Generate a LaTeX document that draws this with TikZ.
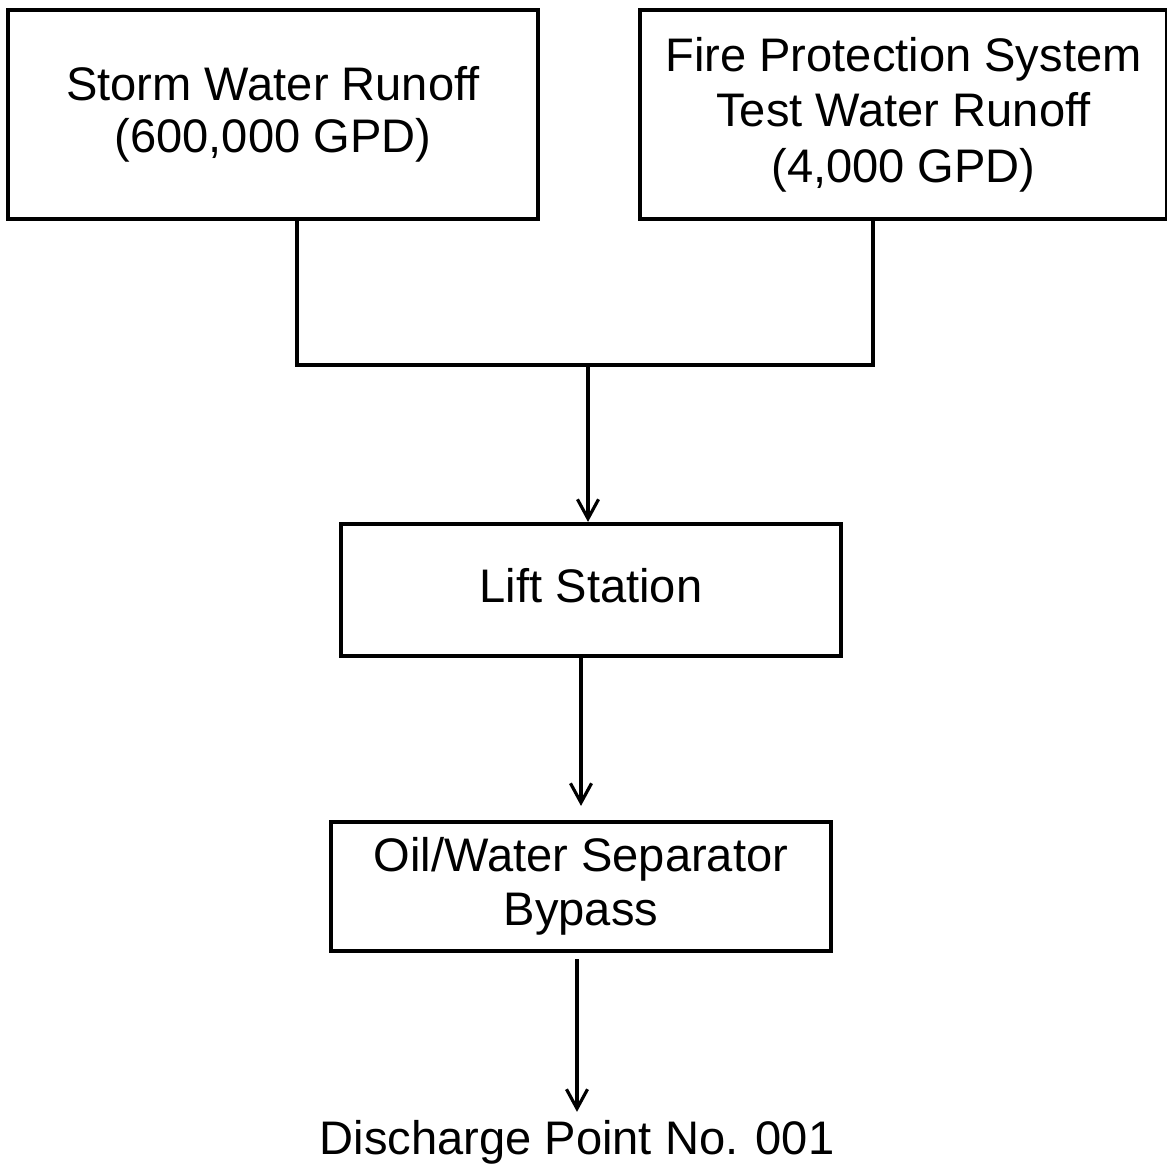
\documentclass[tikz,border=0pt]{standalone}
\usepackage{fontspec}
\setmainfont{Liberation Sans}
\usetikzlibrary{arrows.meta}

\tikzset{
    box/.style={draw, line width=2.4pt, align=center, inner sep=0pt},
    flow/.style={line width=1.8pt, -{Straight Barb[length=11pt, width=12pt, line width=1.8pt]}}
}

\begin{document}
\begin{tikzpicture}[x=0.02cm, y=-0.02cm, font=\fontsize{26.8}{31.5}\selectfont]
        \useasboundingbox (0,0) rectangle (1167,1167);
        \clip (0,0) rectangle (1167,1167);

        \node[box, minimum width=10.6cm, minimum height=4.18cm] (storm) at (273,114.5) {\raisebox{-0.06cm}{Storm Water Runoff}\\(600,000 GPD)};
        \node[box, minimum width=10.54cm, minimum height=4.18cm] (fire) at (903.5,114.5) {Fire Protection System\\Test Water Runoff\\(4,000 GPD)};
        \node[box, minimum width=10cm, minimum height=2.64cm] (lift) at (591,590) {\raisebox{0.2cm}{Lift Station}};
        \node[box, minimum width=10cm, minimum height=2.58cm] (oil) at (581,886.5) {\raisebox{-0.12cm}{Oil/Water Separator}\\\raisebox{-0.1cm}{Bypass}};
        \node (out) at (577,1142) {Discharge Point No. 001};

        \coordinate (join) at (588,365);

        \draw[line width=1.8pt]([xshift=0.48cm]storm.south) |- (join) -| ([xshift=-0.61cm]fire.south);
        \draw[flow](join)--(join |- lift.north);
        \draw[flow, shorten >=0.28cm](lift.south -| oil.north)--(oil.north);
        \draw[flow, shorten <=0.12cm, shorten >=0.04cm](oil.south -| out.north)--(out.north);
    \end{tikzpicture}
\end{document}
